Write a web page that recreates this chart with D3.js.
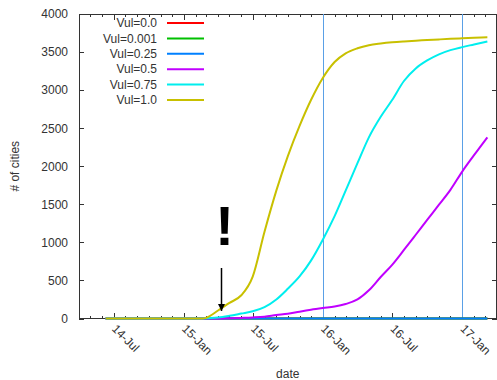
<!DOCTYPE html>
<html lang="en">
    <head>
        <meta charset="utf-8">
        <title>Vul spread</title>
        <script src="https://d3js.org/d3.v7.min.js"></script>
        <style type="text/css">
                body { margin: 0; background: #fff; }
                text {
                    font-family: "Liberation Sans", Arial, sans-serif;
                    font-size: 12px;
                    fill: #333;
                }
                .axis path { display: none; }
                .axis line {
                    stroke: #333;
                    shape-rendering: crispEdges;
                }
         </style>
    </head>
    <body>
        <script type="text/javascript">
        var w = 497;
        var h = 380;
        var margin = {top: 14, right: 0.5, bottom: 61.5, left: 79};

        // sampling dates shared by every series
        var dates = ["2014-06-10", "2014-07-01", "2014-08-01", "2014-09-01", "2014-10-01",
                     "2014-11-01", "2014-12-01", "2015-01-01", "2015-02-01", "2015-02-20",
                     "2015-03-01", "2015-04-01", "2015-05-01", "2015-06-01", "2015-07-01",
                     "2015-08-01", "2015-09-01", "2015-10-01", "2015-11-01", "2015-12-01",
                     "2016-01-01", "2016-02-01", "2016-03-01", "2016-04-01", "2016-05-01",
                     "2016-06-01", "2016-07-01", "2016-08-01", "2016-09-01", "2016-10-01",
                     "2016-11-01", "2016-12-01", "2017-01-01", "2017-02-01", "2017-03-08"];

        var vul0    = [0,0,0,0,0, 0,0,0,0,0, 0,0,0,0,0, 0,0,0,0,0, 0,0,0,0,0, 0,0,0,0,0, 0,0,0,0,0];
        var vul0001 = [0,0,0,0,0, 0,0,0,0,0, 0,0,0,0,0, 0,0,0,0,0, 0,0,0,0,0, 0,0,0,0,0, 0,0,0,0,0];
        var vul025  = [0,0,0,0,0, 0,0,0,0,0, 0,0,0,0,0, 0,0,0,0,0, 0,0,0,0,0, 0,0,0,0,0, 0,0,0,0,0];
        var vul05   = [0,0,0,0,0, 0,0,0,0,0, 0,0,3,8,14, 24,45,62,90,115,
                       137,157,190,250,370, 545,705,900,1100,1295, 1495,1690,1930,2145,2380];
        var vul075  = [0,0,0,0,0, 0,0,0,0,0, 3,12,35,65,95, 150,250,390,552,760,
                       1035,1345,1680,2040,2380, 2650,2870,3120,3285,3390, 3470,3525,3565,3600,3640];
        var vul10   = [0,0,0,0,0, 0,0,0,0,0, 10,105,205,305,550, 1140,1680,2130,2530,2870,
                       3160,3370,3484,3550,3590, 3612,3628,3640,3650,3658, 3666,3674,3681,3688,3694];

        var labels = ["Vul=0.0", "Vul=0.001", "Vul=0.25", "Vul=0.5", "Vul=0.75", "Vul=1.0"];
        var colors = ["#ff0000", "#00c000", "#0080ff", "#c000ff", "#00eeee", "#c8c000"];
        var values = [vul0, vul0001, vul025, vul05, vul075, vul10];

        var markDates = ["2016-01-01", "2017-01-01"]; // vertical lines
        var eventDate = "2015-04-08"; // the "!" arrow
        var yTicks = [0, 500, 1000, 1500, 2000, 2500, 3000, 3500, 4000];

        var parse = d3.utcParse("%Y-%m-%d");

        var svg = d3.select("body")
                .append("svg")
                .attr("width", w)
                .attr("height", h);

        var x = d3.scaleUtc()
                .domain([parse("2014-04-01"), parse("2017-04-01")])
                .range([margin.left, w - margin.right]);
        var y = d3.scaleLinear()
                .domain([0, 4000])
                .range([h - margin.bottom, margin.top]);

        var x0 = margin.left, x1 = w - margin.right;
        var y0 = h - margin.bottom, y1 = margin.top;

        // minor monthly ticks, bottom and top
        svg.append("g").attr("class", "axis")
                .attr("transform", "translate(0," + y0 + ")")
                .call(d3.axisBottom(x).ticks(d3.utcMonth.every(1)).tickSize(-3).tickFormat(""));
        svg.append("g").attr("class", "axis")
                .attr("transform", "translate(0," + y1 + ")")
                .call(d3.axisTop(x).ticks(d3.utcMonth.every(1)).tickSize(-3).tickFormat(""));

        // major ticks
        var xAxis = svg.append("g").attr("class", "axis")
                .attr("transform", "translate(0," + y0 + ")")
                .call(d3.axisBottom(x).ticks(d3.utcMonth.every(6)).tickSize(-6)
                      .tickFormat(d3.utcFormat("%y-%b")));
        xAxis.selectAll("text")
                .attr("x", 0).attr("y", 0).attr("dy", 0)
                .attr("transform", "translate(-3,11) rotate(45)")
                .style("text-anchor", "start");
        svg.append("g").attr("class", "axis")
                .attr("transform", "translate(0," + y1 + ")")
                .call(d3.axisTop(x).ticks(d3.utcMonth.every(6)).tickSize(-6).tickFormat(""));

        svg.append("g").attr("class", "axis")
                .attr("transform", "translate(" + x0 + ",0)")
                .call(d3.axisLeft(y).tickValues(yTicks).tickSize(-5).tickPadding(11)
                      .tickFormat(d3.format("d")));
        svg.append("g").attr("class", "axis")
                .attr("transform", "translate(" + x1 + ",0)")
                .call(d3.axisRight(y).tickValues(yTicks).tickSize(-5).tickFormat(""));

        // frame
        svg.append("rect")
                .attr("x", x0).attr("y", y1)
                .attr("width", x1 - x0).attr("height", y0 - y1)
                .attr("fill", "none").attr("stroke", "#333")
                .attr("shape-rendering", "crispEdges");

        // vertical marker lines
        svg.selectAll("line.mark")
                .data(markDates)
                .enter()
                .append("line")
                .attr("class", "mark")
                .attr("x1", function(d) { return Math.round(x(parse(d))) + 0.5; })
                .attr("x2", function(d) { return Math.round(x(parse(d))) + 0.5; })
                .attr("y1", y1).attr("y2", y0)
                .attr("stroke", "#5aa0e6").attr("stroke-width", 1);

        var line = d3.line()
                .curve(d3.curveMonotoneX)
                .x(function(d, i) { return x(parse(dates[i])); })
                .y(function(d) { return y(d); });

        svg.selectAll("path.series")
                .data(values)
                .enter()
                .append("path")
                .attr("class", "series")
                .attr("d", line)
                .attr("fill", "none")
                .attr("stroke", function(d, i) { return colors[i]; })
                .attr("stroke-width", 2);

        // legend
        var legend = svg.selectAll("g.legend")
                .data(labels)
                .enter()
                .append("g")
                .attr("class", "legend")
                .attr("transform", function(d, i) { return "translate(157," + (23 + i * 15.4) + ")"; });
        legend.append("text")
                .text(function(d) { return d; })
                .attr("text-anchor", "end")
                .attr("dy", "0.35em");
        legend.append("line")
                .attr("x1", 10).attr("x2", 47)
                .attr("stroke", function(d, i) { return colors[i]; })
                .attr("stroke-width", 2);

        // axis titles
        svg.append("text")
                .text("date")
                .attr("x", (x0 + x1) / 2)
                .attr("y", 378)
                .attr("text-anchor", "middle");
        svg.append("text")
                .text("# of cities")
                .attr("transform", "translate(19," + ((y0 + y1) / 2) + ") rotate(-90)")
                .attr("text-anchor", "middle");

        // exclamation + arrow
        var ex = Math.round(x(parse(eventDate))) + 0.5;
        svg.append("defs").append("marker")
                .attr("id", "head")
                .attr("viewBox", "0 0 10 10")
                .attr("refX", 10).attr("refY", 5)
                .attr("markerWidth", 5).attr("markerHeight", 5)
                .attr("orient", "auto")
                .append("path")
                .attr("d", "M0,0L10,5L0,10z")
                .attr("fill", "#000");
        svg.append("line")
                .attr("x1", ex).attr("x2", ex)
                .attr("y1", 268).attr("y2", 311)
                .attr("stroke", "#000").attr("stroke-width", 1.5)
                .attr("marker-end", "url(#head)");
        svg.append("text")
                .text("!")
                .attr("x", ex + 3)
                .attr("y", 245)
                .attr("text-anchor", "middle")
                .style("font-size", "56px")
                .style("font-weight", "bold")
                .style("fill", "#000");
        </script>
    </body>
</html>
